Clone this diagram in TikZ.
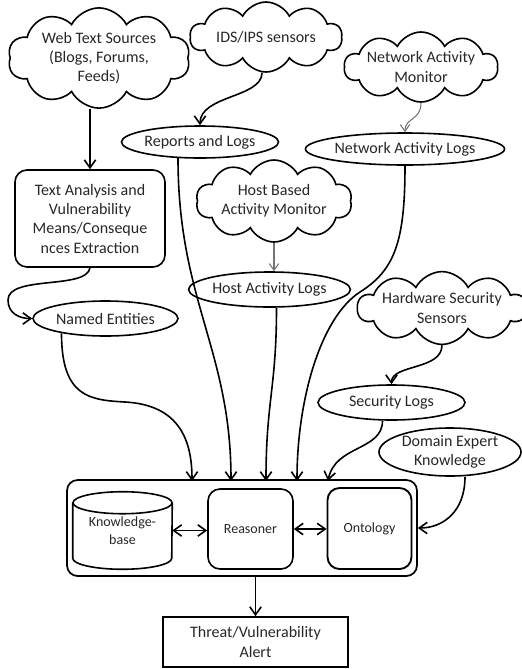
\documentclass[tikz,border=0pt]{standalone}
\usepackage{fontspec}
\setmainfont{Carlito}
\usetikzlibrary{shapes.symbols,shapes.geometric,arrows.meta,calc}
\begin{document}
\begin{tikzpicture}[x=0.75pt,y=-0.75pt,
  every node/.style={font=\fontsize{12}{14.5}\selectfont, text=black!85, align=center},
  base/.style={draw, line width=1.2pt},
  cloudbox/.style={base, cloud, cloud puffs=10, cloud puff arc=125, cloud ignores aspect, inner sep=0pt},
  oval/.style={base, ellipse, inner sep=0pt},
  sz/.style 2 args={minimum width=#1*0.75pt, minimum height=#2*0.75pt},
  roundbox/.style={base, rectangle, rounded corners=9pt, inner sep=0pt},
  smalltext/.style={font=\fontsize{10.5}{13.5}\selectfont},
  conn/.style={line width=1.2pt, -{Straight Barb[length=6pt,width=8.5pt]}},
  greyconn/.style={line width=0.8pt, draw=black!55, -{Straight Barb[length=5pt,width=7pt]}},
  bothconn/.style={line width=1.2pt, {Straight Barb[length=6pt,width=8.5pt]}-{Straight Barb[length=6pt,width=8.5pt]}}
]
\useasboundingbox (0,0) rectangle (522,669);

% clouds
\node[cloudbox, sz={182}{97}] (web) at (99,58) {Web Text Sources\\(Blogs, Forums,\\Feeds)};
\node[cloudbox, sz={152}{70}] (ids) at (266,37) {IDS/IPS sensors};
\node[cloudbox, sz={153}{70}] (nam) at (421,67) {Network Activity\\Monitor};
\node[cloudbox, sz={156}{82}] (hbam) at (274,201) {Host Based\\Activity Monitor};
\node[cloudbox, sz={152}{70}] (hss) at (442,308) {Hardware Security\\Sensors};

% ellipses
\node[oval, sz={144}{32}] (rl) at (200,142) {Reports and Logs};
\node[oval, sz={154}{32}] (nal) at (405,149) {Network Activity Logs};
\node[oval, sz={145}{35}] (hal) at (269.5,289.5) {Host Activity Logs};
\node[oval, sz={145}{35}] (ne) at (105.5,318.5) {Named Entities};
\node[oval, sz={147}{35}] (sl) at (391.5,402.5) {Security Logs};
\node[oval, sz={142}{48}] (dek) at (450,452) {Domain Expert\\Knowledge};

% text analysis box
\node[roundbox, sz={150}{97}] (ta) at (90,218.5) {Text Analysis and\\Vulnerability\\Means/Conseque\\nces Extraction};

% core
\node[base, rectangle, rounded corners=8pt, line width=1.3pt, sz={350}{96}] (core) at (242,528) {};
\node[smalltext, sz={99}{77}, inner sep=0pt] (kb) at (122.5,530.5) {Knowledge-\\base};
\draw[base] ($(kb.north west)+(0,11)$) -- ($(kb.south west)+(0,-11)$)
  arc[start angle=180,end angle=360,x radius=37.125pt,y radius=8.25pt]
  -- ($(kb.north east)+(0,11)$);
\draw[base] ($(kb.north)+(0,11)$) ellipse [x radius=37.125pt, y radius=8.25pt];
\node[roundbox, smalltext, sz={85}{80}] (rs) at (250.5,529) {Reasoner};
\node[roundbox, smalltext, sz={84}{81}, line width=1.4pt] (on) at (369.5,528.5) {Ontology};

% alert
\node[base, rectangle, sz={185}{50}, inner sep=0pt] (alert) at (255.5,642) {Threat/Vulnerability\\Alert};

% named coordinates
\coordinate (in1) at (192,481);
\coordinate (in2) at (231,481);
\coordinate (in3) at (266,481);
\coordinate (in4) at (297,481);
\coordinate (in5) at (328,481);
\coordinate (bendA) at (8,300);
\coordinate (bendB) at (125,402);
\coordinate (bendC) at (360,292);

% connectors
\draw[conn] (ta.north |- web.south) -- (ta.north);
\draw[conn] ($(ids.south)+(-4,0)$) .. controls +(0,25) and +(0,-30) .. (rl.north);
\draw[greyconn] (nam.south) .. controls +(0,18) and +(0,-15) .. (nal.north);
\draw[greyconn] (hbam.south) -- (hbam.south |- hal.north);
\draw[conn] (ta.south) .. controls +(-3,22) and +(0,-25) .. (bendA) .. controls +(0,14) and +(-12,0) .. (ne.west);
\draw[conn] ($(ne.south)+(-44,-3.5)$) .. controls +(0,64) and +(-35,-2) .. (bendB) .. controls +(55,3) and +(0,-40) .. (in1);
\draw[conn] ($(rl.south)+(-22,-1)$) .. controls +(0,143) and +(0,-131) .. (in2);
\draw[conn] ($(hal.south)+(7,0)$) .. controls +(0,80) and +(0,-80) .. (in3);
\draw[conn] (nal.south) .. controls +(0,75) and +(35,-22) .. (bendC) .. controls +(-40,26) and +(0,-80) .. (in4);
\draw[conn] ($(sl.south)+(-9,0)$) .. controls +(0,30) and +(7,-36) .. (in5);
\draw[conn] (hss.south) .. controls +(0,25) and +(0,-20) .. (sl.north);
\draw[conn] ($(dek.south)+(15,0)$) .. controls +(0,35) and +(25,0) .. (core.east);
\draw[bothconn] (kb.east) -- (kb.east -| rs.west);
\draw[bothconn] (rs.east) -- (rs.east -| on.west);
\draw[conn] (alert.north |- core.south) -- (alert.north);
\end{tikzpicture}
\end{document}
